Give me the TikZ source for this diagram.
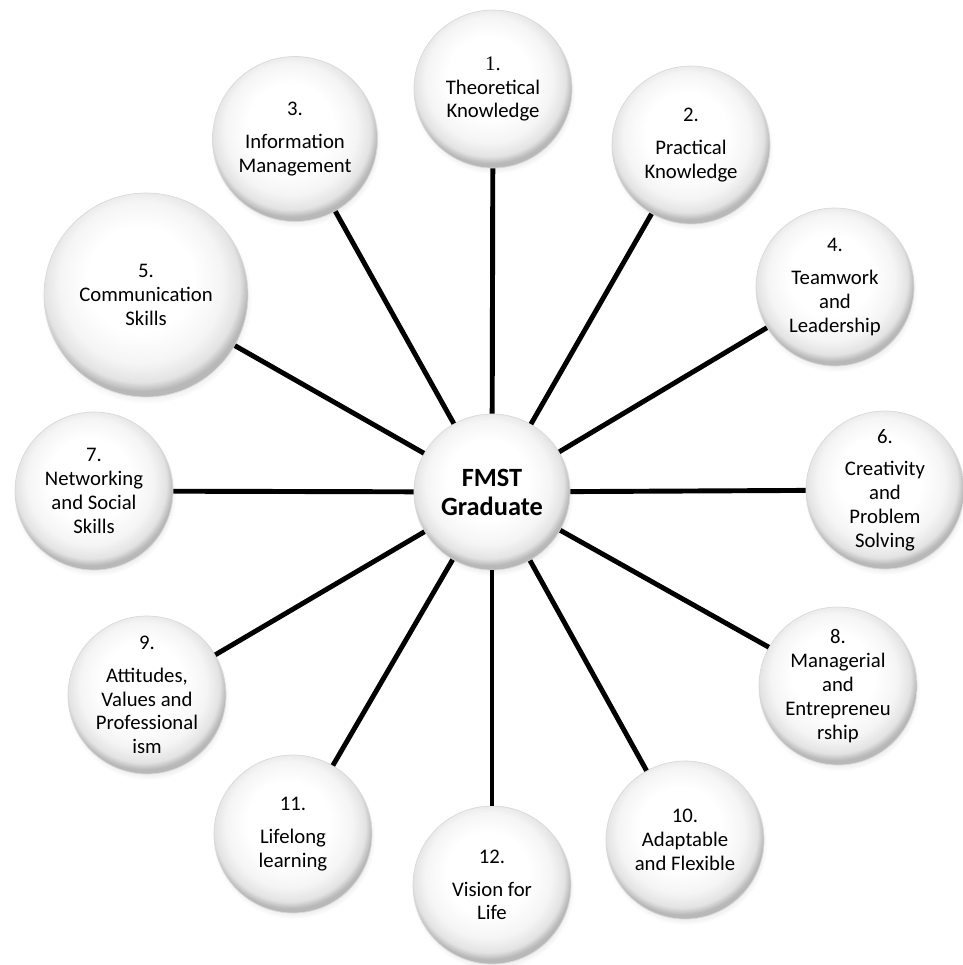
\documentclass[tikz,border=0pt]{standalone}
\usepackage{fontspec}
\setmainfont{Carlito}
\newfontfamily\numserif{Liberation Serif}
\usetikzlibrary{shadows}

\pgfdeclareradialshading{pearl}{\pgfpoint{-2bp}{5bp}}{color(0bp)=(white); color(13bp)=(white); color(20bp)=(black!4); color(24bp)=(black!11); color(26bp)=(black!28); color(50bp)=(black!28)}

\begin{document}
\begin{tikzpicture}[x=0.02cm, y=-0.02cm,
    skill/.style={circle, minimum size=3.16cm, inner sep=0pt, align=center,
        shading=pearl, draw=black!15, line width=0.4pt,
        circular drop shadow={shadow xshift=0.5pt, shadow yshift=-2pt, shadow scale=1.03, opacity=0.25},
        font=\fontsize{11.8}{13.6}\selectfont},
    hubnode/.style={skill, minimum size=3.12cm, font=\fontsize{15}{16.5}\selectfont\bfseries},
    spoke/.style={line width=2.8pt}]
    \useasboundingbox (0,0) rectangle (963,965);

    \node[hubnode] (hub) at (492, 492) {FMST\\Graduate};

    \node[skill] (k1) at (493, 89) {{\numserif 1.}\\Theoretical\\Knowledge};
    \node[skill] (k2) at (691, 145) {2.\\[5pt]Practical\\Knowledge};
    \node[skill, minimum size=3.3cm] (k3) at (295, 139) {3.\\[5pt]Information\\Management};
    \node[skill] (k4) at (835, 287) {4.\\[5pt]Teamwork\\and\\Leadership};
    \node[skill, minimum size=4.08cm] (k5) at (146, 295) {5.\\Communication\\Skills};
    \node[skill] (k6) at (885, 490) {6.\\[5pt]Creativity\\and\\Problem\\Solving};
    \node[skill] (k7) at (94, 491) {7.\\Networking\\and Social\\Skills};
    \node[skill] (k8) at (838, 686) {8.\\Managerial\\and\\Entrepreneu\\rship};
    \node[skill] (k9) at (147, 695) {9.\\[5pt]Attitudes,\\Values and\\Professional\\ism};
    \node[skill] (k10) at (685, 840) {10.\\Adaptable\\and Flexible};
    \node[skill] (k11) at (293, 834) {11.\\[5pt]Lifelong\\learning};
    \node[skill] (k12) at (492, 885) {12.\\[5pt]Vision for\\Life};

    \foreach \k in {1,...,12}
        \draw[spoke] (hub) -- (k\k);
\end{tikzpicture}
\end{document}
